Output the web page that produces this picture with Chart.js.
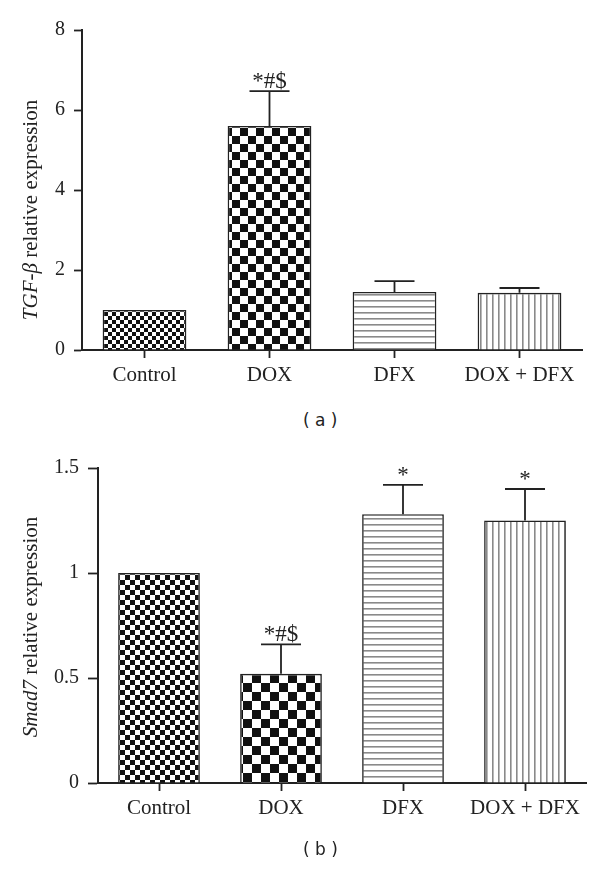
<!DOCTYPE html>
<html>
<head>
<meta charset="UTF-8">
<script src="https://cdn.jsdelivr.net/npm/chart.js@4/dist/chart.umd.min.js"></script>
<title>TGF-beta / Smad7</title>
<style>
	body { margin: 0; background: #fff; }
	#wrap { position: relative; width: 600px; height: 872px; }
	canvas { position: absolute; left: 0; }
	.cap { position: absolute; font-family: "DejaVu Sans", sans-serif; font-size: 17px; color: #222; white-space: pre; }
</style>
</head>
<body>
<div id="wrap">
	<canvas id="chartA" width="600" height="400" style="top:0px"></canvas>
	<div class="cap" style="left:303px; top:410px;">( a )</div>
	<canvas id="chartB" width="600" height="400" style="top:440px"></canvas>
	<div class="cap" style="left:303px; top:839px;">( b )</div>
</div>
<script>
	// data
	var groups = ["Control", "DOX", "DFX", "DOX + DFX"];

	var tgfMean = [1.0, 5.6, 1.45, 1.43];
	var tgfErr = [null, 6.47, 1.72, 1.55];
	var tgfMarks = ["", "*#$", "", ""];
	var tgfTicks = [0, 2, 4, 6, 8];

	var smadMean = [1.0, 0.52, 1.28, 1.25];
	var smadErr = [null, 0.66, 1.42, 1.40];
	var smadMarks = ["", "*#$", "*", "*"];
	var smadTicks = [0, 0.5, 1, 1.5];

	var serif = "'Liberation Serif', 'Times New Roman', serif";

	//fill patterns
	function checker(cell) {
		var c = document.createElement('canvas');
		c.width = cell * 2; c.height = cell * 2;
		var g = c.getContext('2d');
		g.fillStyle = '#fff'; g.fillRect(0, 0, cell * 2, cell * 2);
		g.fillStyle = '#111';
		g.fillRect(0, 0, cell, cell);
		g.fillRect(cell, cell, cell, cell);
		return g.createPattern(c, 'repeat');
	}
	function stripes(horizontal) {
		var c = document.createElement('canvas');
		c.width = 6; c.height = 6;
		var g = c.getContext('2d');
		g.fillStyle = '#fff'; g.fillRect(0, 0, 6, 6);
		g.fillStyle = '#8a8a8a';
		if (horizontal) g.fillRect(0, 0, 6, 1.6);
		else g.fillRect(0, 0, 1.6, 6);
		return g.createPattern(c, 'repeat');
	}

	// error bars + significance marks
	var errorBars = {
		id: 'errorBars',
		afterDatasetsDraw: function(chart) {
			var o = chart.options.plugins.errorBars;
			var ctx = chart.ctx;
			var y = chart.scales.y;
			var meta = chart.getDatasetMeta(0);
			ctx.save();
			ctx.strokeStyle = '#222';
			ctx.lineWidth = 1.8;
			meta.data.forEach(function(bar, i) {
				if (o.err[i] == null) return;
				var top = y.getPixelForValue(o.err[i]);
				ctx.beginPath();
				ctx.moveTo(bar.x, bar.y);
				ctx.lineTo(bar.x, top);
				ctx.moveTo(bar.x - 20, top);
				ctx.lineTo(bar.x + 20, top);
				ctx.stroke();
				if (o.marks[i]) {
					ctx.fillStyle = '#222';
					ctx.font = '23px ' + serif;
					ctx.textAlign = 'center';
					ctx.textBaseline = 'alphabetic';
					ctx.fillText(o.marks[i], bar.x, top - 3);
				}
			});
			ctx.restore();
		}
	};

	// y title with italic gene name
	var yTitle = {
		id: 'yTitle',
		afterDraw: function(chart) {
			var o = chart.options.plugins.yTitle;
			var ctx = chart.ctx;
			ctx.save();
			ctx.translate(o.x, o.y);
			ctx.rotate(-Math.PI / 2);
			ctx.fillStyle = '#222';
			ctx.textBaseline = 'middle';
			var fi = 'italic 21px ' + serif, fn = '21px ' + serif;
			ctx.font = fi;
			var w1 = ctx.measureText(o.gene).width;
			ctx.font = fn;
			var w2 = ctx.measureText(o.rest).width;
			var x0 = -(w1 + w2) / 2;
			ctx.font = fi;
			ctx.textAlign = 'left';
			ctx.fillText(o.gene, x0, 0);
			ctx.font = fn;
			ctx.fillText(o.rest, x0 + w1, 0);
			ctx.restore();
		}
	};

	function drawChart(id, mean, err, marks, ticks, cfg) {
		var ctx = document.getElementById(id).getContext('2d');
		return new Chart(ctx, {
			type: 'bar',
			data: {
				labels: groups,
				datasets: [{
					data: mean,
					backgroundColor: [checker(cfg.fine), checker(cfg.coarse), stripes(true), stripes(false)],
					borderColor: '#222',
					borderWidth: 1.6,
					barPercentage: 0.67,
					categoryPercentage: 1
				}]
			},
			options: {
				responsive: false,
				animation: false,
				devicePixelRatio: 1,
				layout: { padding: { left: 0, right: cfg.right, top: cfg.top, bottom: 0 } },
				plugins: {
					legend: { display: false },
					tooltip: { enabled: false },
					errorBars: { err: err, marks: marks },
					yTitle: { x: 31, y: cfg.titleY, gene: cfg.gene, rest: ' relative expression' }
				},
				scales: {
					x: {
						grid: { offset: false, drawOnChartArea: false, drawTicks: true, tickLength: 8, color: '#222', tickWidth: 1.8 },
						border: { display: true, color: '#222', width: 2 },
						ticks: { color: '#222', padding: 5, font: { family: serif, size: 21 } },
						afterFit: function(s) { s.height = cfg.xh; }
					},
					y: {
						min: ticks[0],
						max: ticks[ticks.length - 1],
						afterBuildTicks: function(s) { s.ticks = ticks.map(function(v) { return { value: v }; }); },
						grid: { drawOnChartArea: false, drawTicks: true, tickLength: cfg.tl, color: '#222', tickWidth: 1.8 },
						border: { display: true, color: '#222', width: 2 },
						ticks: {
							color: '#222', padding: 9, font: { family: serif, size: 20 },
							callback: function(v) { return String(v); }
						},
						afterFit: function(s) { s.width = cfg.yw; }
					}
				}
			},
			plugins: [errorBars, yTitle]
		});
	}

	drawChart('chartA', tgfMean, tgfErr, tgfMarks, tgfTicks,
		{ fine: 4, coarse: 8, right: 18, top: 30, xh: 50, yw: 82, tl: 8, titleY: 210, gene: 'TGF-β' });
	drawChart('chartB', smadMean, smadErr, smadMarks, smadTicks,
		{ fine: 5, coarse: 9, right: 14, top: 28, xh: 57, yw: 98, tl: 10, titleY: 187, gene: 'Smad7' });
</script>
</body>
</html>
